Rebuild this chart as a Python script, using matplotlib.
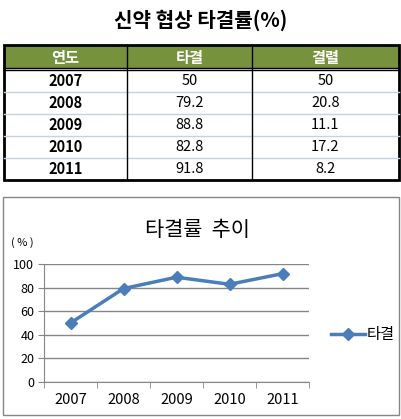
import matplotlib
matplotlib.use('Agg')
import matplotlib.pyplot as plt
from matplotlib.patches import Rectangle

plt.rcParams['font.family'] = ['Noto Sans CJK KR', 'DejaVu Sans']

# data
years = ['2007', '2008', '2009', '2010', '2011']
agreed = [50, 79.2, 88.8, 82.8, 91.8]
broken = [50, 20.8, 11.1, 17.2, 8.2]
columns = ['연도', '타결', '결렬']
agreed_txt = ['50', '79.2', '88.8', '82.8', '91.8']
broken_txt = ['50', '20.8', '11.1', '17.2', '8.2']

W, H = 402, 419
fig = plt.figure(figsize=(W / 100, H / 100), dpi=100)
fig.patch.set_facecolor('white')

# background axes in pixel coordinates for the table and boxes
bg = fig.add_axes([0, 0, 1, 1])
bg.set_xlim(0, W)
bg.set_ylim(H, 0)
bg.axis('off')

bg.text(201, 20, '신약 협상 타결률(%)', ha='center', va='center',
        fontsize=14.5, fontweight='bold')

# table
green = '#76923c'
tx0, tx1 = 4, 399
col_x = [4, 127, 252, 399]
head_top, head_bot = 46, 68
row_h = 22
rows_top = 70
bg.add_patch(Rectangle((tx0, head_top), tx1 - tx0, head_bot - head_top,
                       facecolor=green, edgecolor='none'))
for i, c in enumerate(columns):
    cx = (col_x[i] + col_x[i + 1]) / 2
    bg.text(cx, (head_top + head_bot) / 2 + 0.5, c, ha='center', va='center',
            color='white', fontsize=11, fontweight='bold')

for r in range(1, len(years)):
    y = rows_top + r * row_h
    bg.plot([tx0, tx1], [y, y], color='#c6d0e4', lw=1)

for r, yr in enumerate(years):
    cy = rows_top + r * row_h + row_h / 2
    bg.text((col_x[0] + col_x[1]) / 2, cy, yr, ha='center', va='center',
            fontsize=10.5, fontweight='bold')
    bg.text((col_x[1] + col_x[2]) / 2, cy, agreed_txt[r], ha='center',
            va='center', fontsize=10.5)
    bg.text((col_x[2] + col_x[3]) / 2, cy, broken_txt[r], ha='center',
            va='center', fontsize=10.5)

# borders
bottom = rows_top + len(years) * row_h
bg.add_patch(Rectangle((tx0, head_top - 1), tx1 - tx0, bottom - head_top + 1,
                       facecolor='none', edgecolor='black', lw=2))
bg.plot([tx0, tx1], [head_bot + 0.3, head_bot + 0.3], color='black', lw=1)
bg.plot([tx0, tx1], [head_bot + 2.3, head_bot + 2.3], color='black', lw=1)
for x in col_x[1:3]:
    bg.plot([x, x], [head_top, bottom], color='black', lw=1)

# chart box
bg.add_patch(Rectangle((3.5, 196.5), 396, 218, facecolor='white',
                       edgecolor='#868686', lw=1))
bg.text(197, 230, '타결률  추이', ha='center', va='center', fontsize=15)
bg.text(22, 243, '( % )', ha='center', va='center', fontsize=8)

# line chart
px0, px1, py0, py1 = 44, 309, 264, 382
ax = fig.add_axes([px0 / W, (H - py1) / H, (px1 - px0) / W, (py1 - py0) / H])
ax.set_facecolor('none')
x = list(range(len(years)))
line, = ax.plot(x, agreed, color='#4a7ebb', lw=2.5, marker='D', markersize=6,
                label='타결')
ax.set_xlim(-0.5, len(years) - 0.5)
ax.set_ylim(0, 100)
ax.set_yticks(range(0, 101, 20))
ax.set_xticks(x)
ax.set_xticklabels(years)
ax.set_xticks([i - 0.5 for i in range(len(years) + 1)], minor=True)
ax.tick_params(axis='x', which='major', length=0, pad=8, labelsize=10.5)
ax.tick_params(axis='x', which='minor', length=4, color='#868686')
ax.tick_params(axis='y', length=4, color='#868686', labelsize=9, pad=3,
               direction='out')
ax.yaxis.grid(True, color='#868686', lw=1)
ax.set_axisbelow(True)
for s in ['top', 'right']:
    ax.spines[s].set_visible(False)
for s in ['left', 'bottom']:
    ax.spines[s].set_color('#868686')

ax.legend(handles=[line], loc='center left', bbox_to_anchor=(1.06, 0.4),
          frameon=False, fontsize=11, handlelength=2.2, handletextpad=0.1,
          borderaxespad=0)

fig.savefig('out.png', dpi=100)
